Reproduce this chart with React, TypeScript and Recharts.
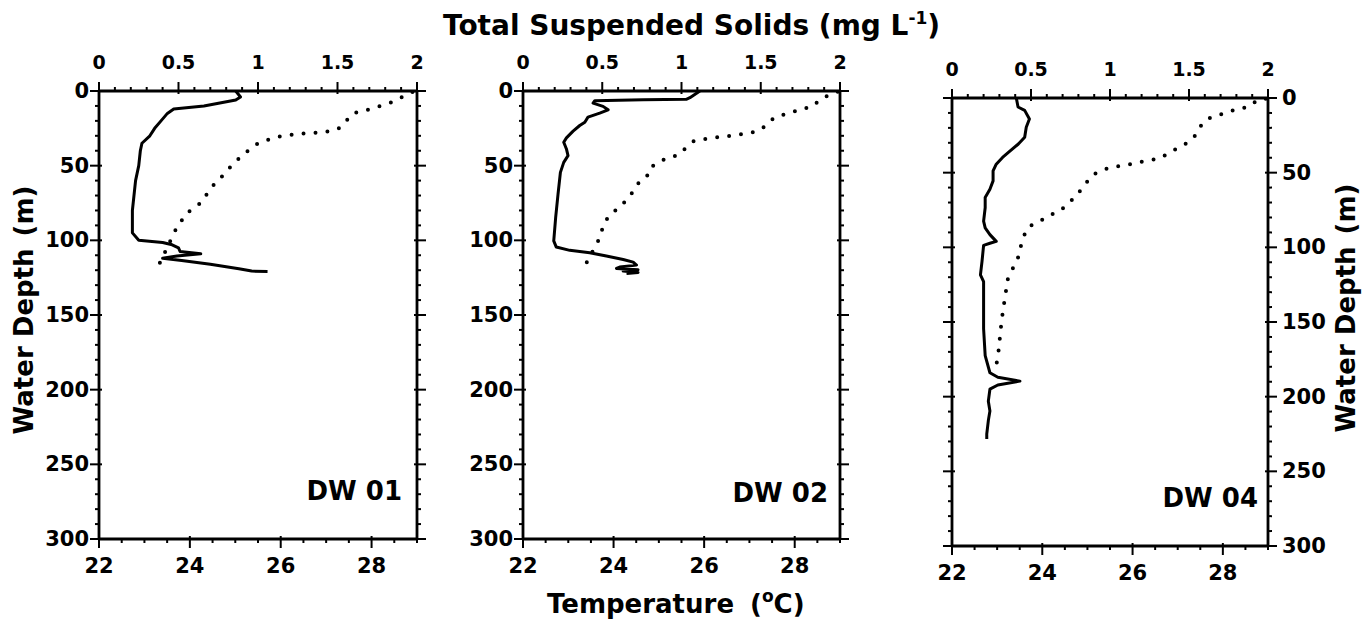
import React from 'react';
import { ScatterChart, Scatter, XAxis, YAxis } from 'recharts';

const FONT = '"DejaVu Sans", "Liberation Sans", sans-serif';

// ---- tick labels ----
const tssMajorTicks = [0, 0.5, 1, 1.5, 2];
const tempMajorTicks = [22, 24, 26, 28];
const depthMajorTicks = [0, 50, 100, 150, 200, 250, 300];

function range(a: number, b: number, step: number): number[] {
  const out: number[] = [];
  const n = Math.round((b - a) / step);
  for (let i = 0; i <= n; i++) out.push(+(a + i * step).toFixed(4));
  return out;
}
const tssTicks = range(0, 2, 0.1);
const tempTicks = range(22, 29, 0.5);
const depthTicks = range(0, 300, 10);

// ---- DW 01 ----
const dw01TssDepth = [0, 4, 6, 10, 12, 15, 20, 25, 30, 35, 40, 50, 60, 80, 95, 100, 101.5, 103, 105, 107.5, 109, 110.5, 112, 113.5, 116, 119, 120.6, 120.8];
const dw01Tss = [0.86, 0.89, 0.86, 0.66, 0.47, 0.43, 0.39, 0.35, 0.32, 0.27, 0.26, 0.25, 0.23, 0.21, 0.21, 0.25, 0.40, 0.46, 0.50, 0.51, 0.64, 0.49, 0.40, 0.52, 0.70, 0.88, 0.96, 1.06];
const dw01TempDepth = [0.7, 3.6, 7.4, 11.9, 14.8, 19.7, 25.3, 27.6, 28.7, 31, 35, 40, 47.8, 57.8, 64.6, 74.7, 81.4, 90.4, 97, 107, 112.8, 120.6];
const dw01Temp = [28.9, 28.7, 28.45, 28.0, 27.6, 27.45, 27.27, 26.97, 26.38, 25.87, 25.5, 25.28, 24.98, 24.69, 24.47, 24.25, 23.95, 23.73, 23.62, 23.47, 23.36, 23.29];

// ---- DW 02 ----
const dw02TssDepth = [0, 4.5, 5.6, 5.8, 6.5, 8.1, 10.3, 12.6, 14.8, 17.5, 20.9, 23.1, 26.9, 31.4, 34.3, 38.8, 43.3, 47.8, 54.5, 69, 84.8, 100.4, 104.5, 106.7, 108.3, 110.5, 112.8, 114.6, 116.6, 117.9, 118.8, 119.7, 120.6, 121.5, 122.2];
const dw02Tss = [1.116, 1.053, 1.03, 0.758, 0.453, 0.442, 0.505, 0.537, 0.484, 0.41, 0.39, 0.358, 0.316, 0.274, 0.257, 0.274, 0.284, 0.257, 0.236, 0.221, 0.206, 0.194, 0.21, 0.295, 0.421, 0.526, 0.632, 0.695, 0.716, 0.61, 0.59, 0.726, 0.632, 0.726, 0.653];
const dw02TempDepth = [0.5, 2.2, 5.8, 10.8, 11.9, 14.8, 16.4, 19.3, 23.8, 27.1, 28.3, 29.8, 30.5, 31.4, 32.3, 33.6, 37.7, 42.8, 44.8, 47.8, 51.6, 57.8, 61.9, 67.3, 73.1, 77.6, 82.1, 87.4, 100.4, 106.7, 112.8, 119.5];
const dw02Temp = [28.95, 28.78, 28.56, 28.37, 28.15, 27.9, 27.67, 27.49, 27.34, 27.16, 26.94, 26.68, 26.42, 26.2, 25.98, 25.77, 25.61, 25.43, 25.2, 24.98, 24.8, 24.73, 24.54, 24.43, 24.28, 24.14, 23.95, 23.81, 23.66, 23.55, 23.44, 23.33];

// ---- DW 04 ----
const dw04TssDepth = [0, 6, 8.3, 14, 19.6, 26.3, 30.8, 35.3, 39.8, 44.3, 48.8, 55.5, 61.1, 66.7, 73.5, 82.5, 87, 91.5, 96, 97.3, 98.7, 109.4, 118.4, 123, 132, 154.5, 172.5, 184, 187, 189.6, 192.2, 195, 203, 209.6, 216, 225, 228.4];
const dw04Tss = [0.407, 0.418, 0.46, 0.49, 0.47, 0.46, 0.42, 0.37, 0.32, 0.28, 0.26, 0.26, 0.24, 0.21, 0.21, 0.20, 0.21, 0.24, 0.28, 0.24, 0.20, 0.19, 0.18, 0.20, 0.20, 0.20, 0.21, 0.24, 0.29, 0.43, 0.29, 0.24, 0.23, 0.24, 0.23, 0.22, 0.22];
const dw04TempDepth = [0.5, 1.1, 6, 7.2, 9.4, 11.7, 13.9, 18.4, 24.5, 29.7, 33, 36.4, 39.8, 41.6, 42.7, 44.3, 45.4, 46.5, 48.8, 52.1, 58.2, 65.6, 70.8, 75.7, 78, 81.3, 83.6, 87, 93.7, 107.2, 114, 120.7, 134.2, 148.8, 160.7, 169.6, 176, 182.9];
const dw04Temp = [28.95, 28.78, 28.56, 28.34, 28.11, 27.89, 27.67, 27.52, 27.41, 27.23, 27.04, 26.82, 26.64, 26.42, 26.2, 25.97, 25.75, 25.53, 25.27, 25.09, 24.94, 24.75, 24.57, 24.39, 24.2, 24.02, 23.83, 23.68, 23.57, 23.46, 23.35, 23.24, 23.17, 23.1, 23.06, 23.03, 23.0, 22.95];

const stationNames = ['DW 01', 'DW 02', 'DW 04'];

function zip(depths: number[], vals: number[]) {
  return depths.map((d, i) => ({ x: vals[i], y: d }));
}

type Side = 'top' | 'bottom' | 'left' | 'right';

function makeTick(side: Side, majors: number[], showLabel: boolean, fontSize: number) {
  return (props: any) => {
    const { x, y, payload } = props;
    const v = payload.value;
    const isMajor = majors.some((m) => Math.abs(m - v) < 1e-6);
    const out = isMajor ? 9 : 4;
    const inn = isMajor ? 3 : 0;
    let line: any = null;
    let label: any = null;
    const txt = {
      fontFamily: FONT,
      fontWeight: 'bold' as const,
      fontSize,
      fill: '#000',
    };
    if (side === 'top') {
      line = <line x1={x} x2={x} y1={y + inn} y2={y - out} stroke="#000" strokeWidth={2} />;
      if (showLabel && isMajor)
        label = <text x={x} y={y - 22} textAnchor="middle" {...txt}>{String(v)}</text>;
    } else if (side === 'bottom') {
      line = <line x1={x} x2={x} y1={y - inn} y2={y + out} stroke="#000" strokeWidth={2} />;
      if (showLabel && isMajor)
        label = <text x={x} y={y + 34} textAnchor="middle" {...txt}>{String(v)}</text>;
    } else if (side === 'left') {
      line = <line x1={x + inn} x2={x - out} y1={y} y2={y} stroke="#000" strokeWidth={2} />;
      if (showLabel && isMajor)
        label = <text x={x - 10} y={y} textAnchor="end" dominantBaseline="central" {...txt}>{String(v)}</text>;
    } else {
      line = <line x1={x - inn} x2={x + out} y1={y} y2={y} stroke="#000" strokeWidth={2} />;
      if (showLabel && isMajor)
        label = <text x={x + 14} y={y} textAnchor="start" dominantBaseline="central" {...txt}>{String(v)}</text>;
    }
    return (
      <g>
        {line}
        {label}
      </g>
    );
  };
}

const noShape = () => <g />;

const panels = [
  { L: 99, T: 91, W: 318, H: 448, left: true, tssDepth: dw01TssDepth, tss: dw01Tss, tempDepth: dw01TempDepth, temp: dw01Temp },
  { L: 523, T: 91, W: 317, H: 448, left: true, tssDepth: dw02TssDepth, tss: dw02Tss, tempDepth: dw02TempDepth, temp: dw02Temp },
  { L: 952, T: 98, W: 316, H: 448, left: false, tssDepth: dw04TssDepth, tss: dw04Tss, tempDepth: dw04TempDepth, temp: dw04Temp },
];

const axisLineStyle = { stroke: '#000', strokeWidth: 2.8 };

function Panel({ cfg }: { cfg: any }) {
  const { L, T, W, H } = cfg;
  const tssData = zip(cfg.tssDepth, cfg.tss);
  const tempData = zip(cfg.tempDepth, cfg.temp);
  return (
    <div style={{ position: 'absolute', left: L - 70, top: T - 60 }}>
      <ScatterChart width={W + 140} height={H + 120} margin={{ top: 20, right: 10, bottom: 20, left: 10 }}>
        <XAxis
          xAxisId="tss"
          orientation="top"
          type="number"
          dataKey="x"
          domain={[0, 2]}
          allowDataOverflow
          ticks={tssTicks}
          interval={0}
          height={40}
          tickSize={0}
          tickMargin={0}
          tickLine={false}
          axisLine={axisLineStyle}
          tick={makeTick('top', tssMajorTicks, true, 19)}
        />
        <XAxis
          xAxisId="temp"
          orientation="bottom"
          type="number"
          dataKey="x"
          domain={[22, 29]}
          allowDataOverflow
          ticks={tempTicks}
          interval={0}
          height={40}
          tickSize={0}
          tickMargin={0}
          tickLine={false}
          axisLine={axisLineStyle}
          tick={makeTick('bottom', tempMajorTicks, true, 21)}
        />
        <YAxis
          yAxisId="depth"
          orientation="left"
          type="number"
          dataKey="y"
          reversed
          domain={[0, 300]}
          allowDataOverflow
          ticks={depthTicks}
          interval={0}
          width={60}
          tickSize={0}
          tickMargin={0}
          tickLine={false}
          axisLine={axisLineStyle}
          tick={makeTick('left', depthMajorTicks, cfg.left, 21)}
        />
        <YAxis
          yAxisId="depthR"
          orientation="right"
          type="number"
          dataKey="y"
          reversed
          domain={[0, 300]}
          allowDataOverflow
          ticks={depthTicks}
          interval={0}
          width={60}
          tickSize={0}
          tickMargin={0}
          tickLine={false}
          axisLine={axisLineStyle}
          tick={makeTick('right', depthMajorTicks, !cfg.left, 21)}
        />
        <Scatter
          xAxisId="temp"
          yAxisId="depthR"
          data={tempData}
          line={{ stroke: '#000', strokeWidth: 4, strokeDasharray: '0 12', strokeLinecap: 'round' }}
          shape={noShape}
          isAnimationActive={false}
        />
        <Scatter
          xAxisId="tss"
          yAxisId="depth"
          data={tssData}
          line={{ stroke: '#000', strokeWidth: 3, strokeLinejoin: 'round' }}
          shape={noShape}
          isAnimationActive={false}
        />
      </ScatterChart>
    </div>
  );
}

export default function App() {
  const textStyle = { fontFamily: FONT, fontWeight: 'bold' as const, fill: '#000' };
  const dwPos = [
    { x: 402, y: 500 },
    { x: 828, y: 502 },
    { x: 1258, y: 507 },
  ];
  return (
    <div style={{ position: 'absolute', left: 0, top: 0, width: 1364, height: 630, background: '#fff', overflow: 'hidden' }}>
      {panels.map((p, i) => (
        <Panel key={i} cfg={p} />
      ))}
      <svg width={1364} height={630} style={{ position: 'absolute', left: 0, top: 0, pointerEvents: 'none' }}>
        <text x={443} y={35} fontSize={28} {...textStyle}>
          Total Suspended Solids (mg L
          <tspan fontSize={17} dy={-11}>-1</tspan>
          <tspan dy={11}>)</tspan>
        </text>
        <text x={547} y={613} fontSize={26} {...textStyle}>
          Temperature
          <tspan dx={16}>(</tspan>
          <tspan fontSize={17} dy={-11}>o</tspan>
          <tspan dy={11}>C)</tspan>
        </text>
        <text transform="translate(33,310) rotate(-90)" textAnchor="middle" fontSize={26} {...textStyle}>
          Water Depth
          <tspan dx={12}>(m)</tspan>
        </text>
        <text transform="translate(1355,308) rotate(-90)" textAnchor="middle" fontSize={26} {...textStyle}>
          Water Depth
          <tspan dx={12}>(m)</tspan>
        </text>
        {stationNames.map((n, i) => (
          <text key={n} x={dwPos[i].x} y={dwPos[i].y} textAnchor="end" fontSize={26} {...textStyle}>
            {n}
          </text>
        ))}
      </svg>
    </div>
  );
}
